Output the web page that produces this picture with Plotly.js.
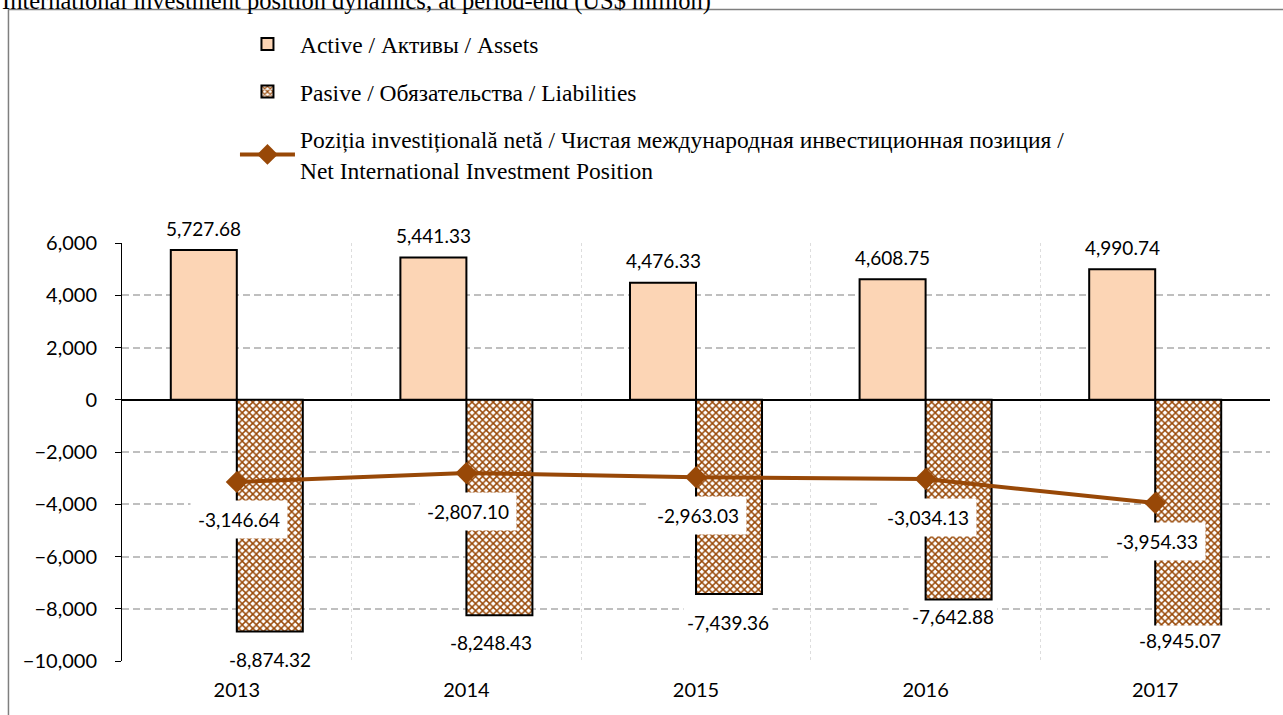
<!DOCTYPE html>
<html>
<head>
<meta charset="utf-8">
<script src="https://cdn.plot.ly/plotly-3.0.1.min.js"></script>
<style>html,body{margin:0;padding:0;background:#fff;}#chart{width:1283px;height:715px;}</style>
</head>
<body>
<div id="chart"></div>
<script>
// ---- data ----
var years = ['2013', '2014', '2015', '2016', '2017'];
var assets = [5727.68, 5441.33, 4476.33, 4608.75, 4990.74];
var liabilities = [-8874.32, -8248.43, -7439.36, -7642.88, -8945.07];
var netPosition = [-3146.64, -2807.10, -2963.03, -3034.13, -3954.33];

var seriesNames = [
  'Active / Активы / Assets',
  'Pasive / Обязательства / Liabilities',
  'Poziția investițională netă / Чистая международная инвестиционная позиция /<br>Net International Investment Position'
];
var titleText = 'International investment position dynamics, at period-end (US$ million)';

// ---- label placement (pixels) ----
var liabLabelDrop = [28, 27, 28, 17, 7];
var liabLabelShiftX = [0, -8, -1, -6, -8];
var barOffsetPx = 33;

var brown = '#984807';
var numFont = {family: 'Lato, Open Sans, sans-serif', size: 19, color: '#000'};
var tickFont = {family: 'Lato, Open Sans, sans-serif', size: 20, color: '#000'};
var serifFont = {family: 'Liberation Serif, serif', size: 23.5, color: '#000'};

function fmt(v) {
  return v.toLocaleString('en-US', {minimumFractionDigits: 2, maximumFractionDigits: 2});
}

var traces = [
  {
    type: 'bar', x: years, y: assets, name: seriesNames[0], legendgroup: 'a',
    marker: {color: '#FCD5B5', line: {color: '#000', width: 2}},
    hoverinfo: 'skip'
  },
  {
    type: 'bar', x: years, y: liabilities, name: seriesNames[1], legendgroup: 'b',
    marker: {color: '#ffffff', line: {color: '#000', width: 2},
      pattern: {shape: 'x', fgcolor: brown, bgcolor: '#ffffff', size: 5, solidity: 0.5}},
    hoverinfo: 'skip'
  },
  {
    type: 'scatter', mode: 'lines+markers', x: years, y: netPosition, name: seriesNames[2], legendgroup: 'c',
    line: {color: brown, width: 4},
    marker: {symbol: 'diamond', size: 17, color: brown},
    hoverinfo: 'skip'
  }
];

var annotations = [];
years.forEach(function (yr, i) {
  annotations.push({x: i, y: assets[i], xref: 'x', yref: 'y', text: fmt(assets[i]),
    showarrow: false, xshift: -barOffsetPx, yshift: 22, yanchor: 'middle',
    font: numFont, bgcolor: '#ffffff', borderpad: 2});
  annotations.push({x: i, y: liabilities[i], xref: 'x', yref: 'y', text: fmt(liabilities[i]),
    showarrow: false, xshift: barOffsetPx + liabLabelShiftX[i], yshift: -liabLabelDrop[i], yanchor: 'middle',
    font: numFont, bgcolor: '#ffffff', borderpad: 3});
  annotations.push({x: i, y: netPosition[i], xref: 'x', yref: 'y', text: fmt(netPosition[i]),
    showarrow: false, xshift: 2, yshift: -38, yanchor: 'middle',
    font: numFont, bgcolor: '#ffffff', borderpad: 7});
});
annotations.push({xref: 'paper', yref: 'paper', x: -0.1063, y: 1.579, xanchor: 'left', yanchor: 'middle',
  text: titleText, showarrow: false, font: {family: 'Liberation Serif, serif', size: 24.5, color: '#000'}});

var layout = {
  width: 1283, height: 715,
  margin: {l: 122, r: 13, t: 243, b: 54},
  paper_bgcolor: '#fff', plot_bgcolor: '#fff',
  barmode: 'group', bargap: 0.425, bargroupgap: 0,
  showlegend: true,
  legend: {x: 0.0984, y: 1.528, xanchor: 'left', yanchor: 'top', font: serifFont,
    tracegroupgap: 14, itemwidth: 55, bgcolor: 'rgba(0,0,0,0)', traceorder: 'grouped'},
  xaxis: {type: 'category', tickson: 'boundaries', showgrid: true, gridcolor: '#DDDDDD',
    griddash: 'dot', gridwidth: 1, showline: false, ticks: '', zeroline: false,
    tickfont: tickFont, ticklabelstandoff: 15, range: [-0.5, 4.5]},
  yaxis: {range: [-10000, 6000], dtick: 2000, tickformat: ',', showline: true, linecolor: '#000',
    linewidth: 1, ticks: 'outside', ticklen: 6, tickcolor: '#000', showgrid: true,
    gridcolor: '#BFBFBF', gridwidth: 2, griddash: '7px,4px', zeroline: true, zerolinecolor: '#000',
    zerolinewidth: 1.5, tickfont: tickFont, ticklabelstandoff: 14},
  annotations: annotations,
  shapes: [{type: 'rect', xref: 'paper', yref: 'paper', x0: -0.0989, x1: 1.2, y0: -0.4, y1: 1.5586,
    line: {color: '#7F7F7F', width: 1.5}, fillcolor: 'rgba(0,0,0,0)', layer: 'below'}]
};

Plotly.newPlot('chart', traces, layout, {displayModeBar: false, staticPlot: true});
</script>
</body>
</html>
